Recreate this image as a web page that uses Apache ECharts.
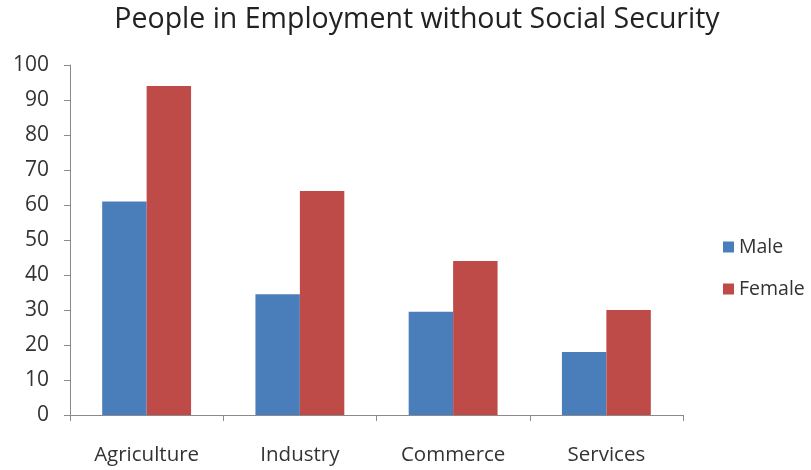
<!DOCTYPE html>
<html><head><meta charset="utf-8">
<script src="https://cdn.jsdelivr.net/npm/echarts@6/dist/echarts.min.js"></script>
<style>html,body{margin:0;padding:0;background:#fff}#c{width:811px;height:470px}</style>
</head><body><div id="c"></div>
<script>
var categories = ['Agriculture', 'Industry', 'Commerce', 'Services'];
var maleValues = [61, 34.5, 29.5, 18];
var femaleValues = [94, 64, 44, 30];
var yTicks = [0, 10, 20, 30, 40, 50, 60, 70, 80, 90, 100];

var chart = echarts.init(document.getElementById('c'));
var font = '"Open Sans", Lato, sans-serif';
chart.setOption({
  animation: false,
  title: {
    text: 'People in Employment without Social Security',
    left: 412, top: 0, textAlign: 'center',
    textStyle: { fontFamily: font, fontSize: 28.5, fontWeight: 'normal', color: '#222' }
  },
  legend: {
    orient: 'vertical', left: 718, top: 232, itemGap: 22,
    itemWidth: 11, itemHeight: 11, icon: 'rect',
    textStyle: { fontFamily: font, fontSize: 19.5, color: '#333' },
    data: ['Male', 'Female']
  },
  grid: { left: 70, right: 128, top: 65, bottom: 55 },
  xAxis: {
    type: 'category', data: categories,
    axisLine: { lineStyle: { color: '#8a8a8a' } },
    axisTick: { show: true, length: 6, alignWithLabel: false, lineStyle: { color: '#8a8a8a' } },
    axisLabel: { fontFamily: font, fontSize: 20.5, color: '#333', margin: 30 }
  },
  yAxis: {
    type: 'value', min: 0, max: 100, interval: 10,
    axisLine: { show: true, lineStyle: { color: '#8a8a8a' } },
    axisTick: { show: true, length: 6, lineStyle: { color: '#8a8a8a' } },
    splitLine: { show: false },
    axisLabel: { fontFamily: font, fontSize: 21, color: '#333', margin: 21,
      formatter: function (v) { return yTicks.indexOf(v) >= 0 ? String(v) : ''; } }
  },
  series: [
    { name: 'Male', type: 'bar', data: maleValues, barGap: '0%', barCategoryGap: '42%',
      itemStyle: { color: '#4a7ebb' } },
    { name: 'Female', type: 'bar', data: femaleValues, barGap: '0%', barCategoryGap: '42%',
      itemStyle: { color: '#be4b48' } }
  ]
});
</script></body></html>
